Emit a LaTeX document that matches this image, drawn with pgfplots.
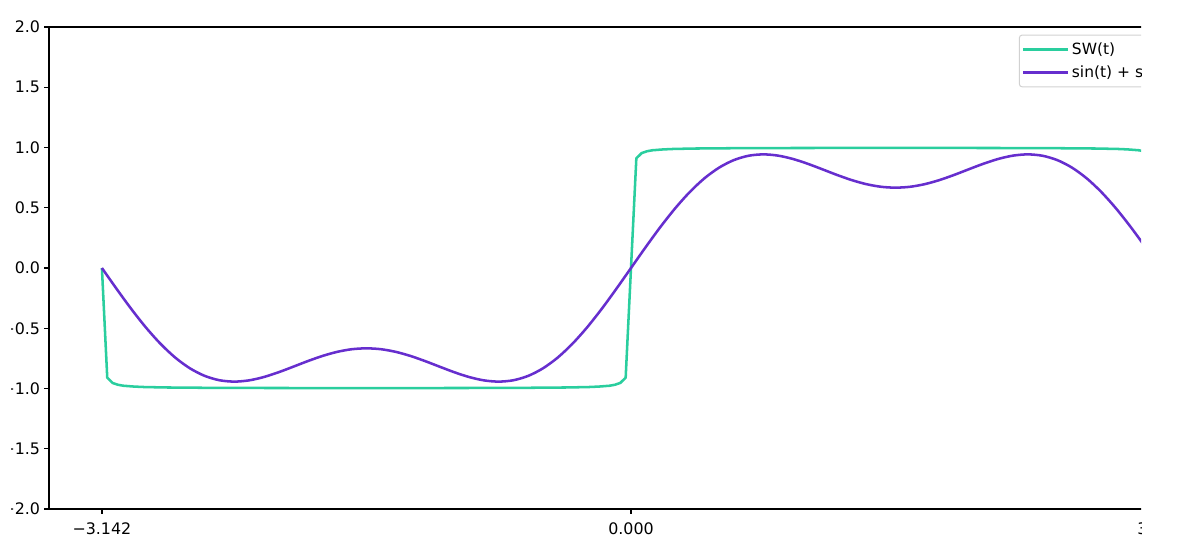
\documentclass[border=0pt]{standalone}
\usepackage{fontspec}
\setmainfont{DejaVu Sans}
\usepackage{pgfplots}
\pgfplotsset{compat=1.18}
\definecolor{swgreen}{RGB}{42,206,158}
\definecolor{sinpurple}{RGB}{102,46,206}
\begin{document}
\begin{tikzpicture}
\path[use as bounding box] (0,0) rectangle (888.75pt,409.5pt);
\clip (8.6pt,0pt) rectangle (855.75pt,409.5pt);
\begin{axis}[
  at={(36.75pt,27.75pt)}, anchor=south west,
  scale only axis, width=873pt, height=361.5pt,
  xmin=-3.4558, xmax=3.4558, ymin=-2, ymax=2,
  axis line style={line width=0.9pt},
  tick style={line width=0.9pt, black},
  tick align=outside, major tick length=3.65pt,
  xtick pos=bottom, ytick pos=left,
  xtick={-3.14159,0,3.14159},
  xticklabels={−3.142,0.000,3.142},
  ytick={-2,-1.5,-1,-0.5,0,0.5,1,1.5,2},
  yticklabels={−2.0,−1.5,−1.0,−0.5,0.0,0.5,1.0,1.5,2.0},
  ticklabel style={font=\fontsize{11.9}{14}\selectfont},
  xticklabel style={yshift=-3pt},
  yticklabel style={xshift=0.5pt},
  legend cell align=left,
  legend style={at={(0.994,0.9841)}, anchor=north east,
    draw=black!18, rounded corners=2pt, line width=0.75pt,
    font=\fontsize{11.6}{14}\selectfont,
    inner xsep=2pt, inner ysep=3.75pt,
    row sep=2.6pt},
  legend image code/.code={\draw[#1,line width=1.9pt] (0pt,0pt) -- (24.75pt,0pt);\path (0pt,0pt) -- (33.5pt,0pt);},
]
\addplot[swgreen, line width=1.9pt, line join=round] coordinates {
(-3.1416,0) (-3.1099,-0.910) (-3.0781,-0.954) (-3.0464,-0.969) (-3.0147,-0.977)
(-2.9512,-0.984) (-2.8877,-0.988) (-2.7608,-0.9915) (-2.5069,-0.9944) (-2.1896,-0.9957)
(-1.8723,-0.9963) (-1.5708,-0.9964) (-1.2693,-0.9963) (-0.9520,-0.9957) (-0.6347,-0.9944)
(-0.3808,-0.9915) (-0.2539,-0.988) (-0.1904,-0.984) (-0.1269,-0.977) (-0.0952,-0.969)
(-0.0635,-0.954) (-0.0317,-0.910) (0,0)
(0.0317,0.910) (0.0635,0.954) (0.0952,0.969) (0.1269,0.977) (0.1904,0.984)
(0.2539,0.988) (0.3808,0.9915) (0.6347,0.9944) (0.9520,0.9957) (1.2693,0.9963)
(1.5708,0.9964) (1.8723,0.9963) (2.1896,0.9957) (2.5069,0.9944) (2.7608,0.9915)
(2.8877,0.988) (2.9512,0.984) (3.0147,0.977) (3.0464,0.969) (3.0781,0.954)
(3.1099,0.910) (3.1416,0)
};
\addlegendentry{SW(t)}
\addplot[sinpurple, line width=1.9pt, line join=round, smooth] coordinates {
(-3.1416,0) (-3.0543,-0.17343) (-2.9671,-0.34032) (-2.8798,-0.49452) (-2.7925,-0.63070)
(-2.7053,-0.74460) (-2.6180,-0.83333) (-2.5307,-0.89556) (-2.4435,-0.93147) (-2.3562,-0.94281)
(-2.2689,-0.93271) (-2.1817,-0.90542) (-2.0944,-0.86603) (-2.0071,-0.82004) (-1.9199,-0.77302)
(-1.8326,-0.73023) (-1.7453,-0.69613) (-1.6581,-0.67421) (-1.5708,-0.66667) (-1.4835,-0.67421)
(-1.3963,-0.69613) (-1.3090,-0.73023) (-1.2217,-0.77302) (-1.1345,-0.82004) (-1.0472,-0.86603)
(-0.9599,-0.90542) (-0.8727,-0.93271) (-0.7854,-0.94281) (-0.6981,-0.93147) (-0.6109,-0.89556)
(-0.5236,-0.83333) (-0.4363,-0.74460) (-0.3491,-0.63070) (-0.2618,-0.49452) (-0.1745,-0.34032)
(-0.0873,-0.17343) (0,0)
(0.0873,0.17343) (0.1745,0.34032) (0.2618,0.49452) (0.3491,0.63070) (0.4363,0.74460)
(0.5236,0.83333) (0.6109,0.89556) (0.6981,0.93147) (0.7854,0.94281) (0.8727,0.93271)
(0.9599,0.90542) (1.0472,0.86603) (1.1345,0.82004) (1.2217,0.77302) (1.3090,0.73023)
(1.3963,0.69613) (1.4835,0.67421) (1.5708,0.66667) (1.6581,0.67421) (1.7453,0.69613)
(1.8326,0.73023) (1.9199,0.77302) (2.0071,0.82004) (2.0944,0.86603) (2.1817,0.90542)
(2.2689,0.93271) (2.3562,0.94281) (2.4435,0.93147) (2.5307,0.89556) (2.6180,0.83333)
(2.7053,0.74460) (2.7925,0.63070) (2.8798,0.49452) (2.9671,0.34032) (3.0543,0.17343)
(3.1416,0)
};
\addlegendentry{sin(t) + sin(3t)/3}
\end{axis}
\end{tikzpicture}
\end{document}
